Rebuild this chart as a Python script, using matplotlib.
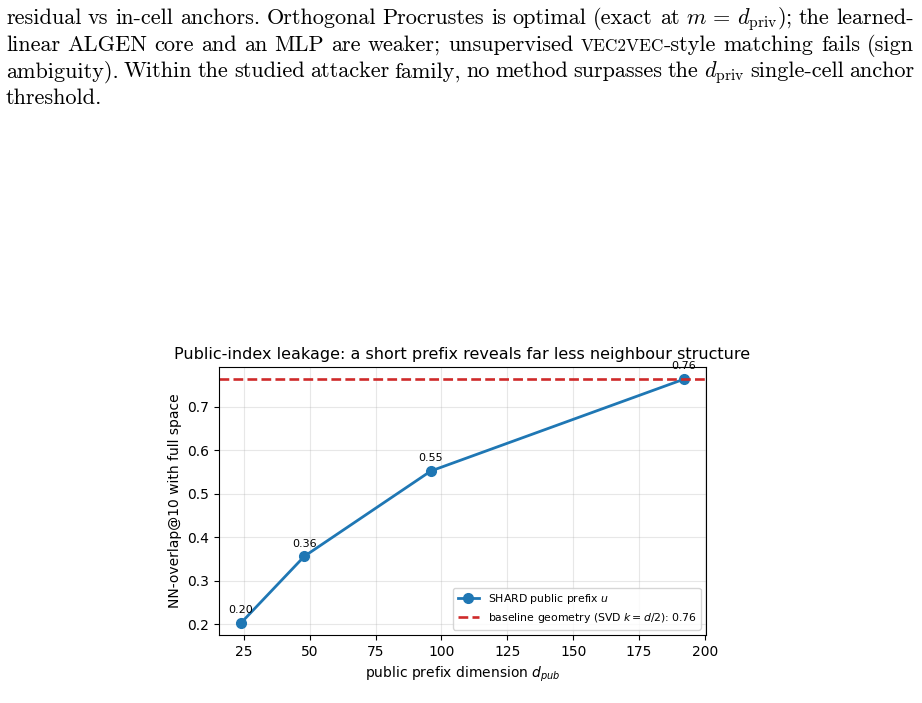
import matplotlib
matplotlib.use("Agg")
import matplotlib.pyplot as plt
from matplotlib.font_manager import FontProperties

# data
d_pub = [24, 48, 96, 192]
overlap = [0.203, 0.356, 0.552, 0.763]
baseline = 0.763

# page text above the figure; text between |...| is small caps
paper_lines = [
    "residual vs in-cell anchors. Orthogonal Procrustes is optimal (exact at $m\\,=\\,d_{\\mathrm{priv}}$); the learned-",
    "linear ALGEN core and an MLP are weaker; unsupervised |VEC2VEC|-style matching fails (sign",
    "ambiguity). Within the studied attacker family, no method surpasses the $d_{\\mathrm{priv}}$ single-cell anchor",
    "threshold.",
]

fig = plt.figure(figsize=(9.22, 7.03), dpi=100)
renderer = fig.canvas.get_renderer()

base_size = 16
left_px, right_px = 6, 914


def word_pieces(w):
    parts = w.split('|')
    out = []
    for k, p in enumerate(parts):
        if p:
            out.append((p, 0.78 if k % 2 else 1.0))
    return out


# justified lines, word by word
for i, line in enumerate(paper_lines):
    y = 1 - (24 + 26.7 * i) / 703
    words = line.split(' ')
    drawn = []
    for w in words:
        items = []
        for txt, f in word_pieces(w):
            fp = FontProperties(family='cmr10', size=base_size * f, math_fontfamily='cm')
            t = fig.text(0, y, txt, fontproperties=fp, va='baseline', ha='left')
            wpx = t.get_window_extent(renderer).width
            items.append((t, wpx))
        drawn.append(items)
    widths = [sum(p[1] for p in it) for it in drawn]
    if i == len(paper_lines) - 1:
        gap = 6
    else:
        gap = (right_px - left_px - sum(widths)) / (len(words) - 1)
    x = left_px
    for it, wd in zip(drawn, widths):
        xx = x
        for t, wpx in it:
            t.set_x(xx / 922)
            xx += wpx
        x += wd + gap

ax = fig.add_axes([0.2375, 0.0967, 0.5282, 0.3812])
ax.plot(d_pub, overlap, marker='o', color='#1f77b4', lw=2, ms=7,
        label='SHARD public prefix $u$')
ax.axhline(baseline, color='#cf2a2a', ls='--', lw=1.9,
           label='baseline geometry (SVD $k=d/2$): %.2f' % baseline)
for x, y in zip(d_pub, overlap):
    ax.annotate('%.2f' % y, (x, y), xytext=(0, 7), textcoords='offset points',
                ha='center', fontsize=8)

ax.set_title('Public-index leakage: a short prefix reveals far less neighbour structure',
             fontsize=11.5)
ax.set_xlabel('public prefix dimension $d_{pub}$')
ax.set_ylabel('NN-overlap@10 with full space')
ax.grid(True, alpha=0.3)
ax.legend(loc='lower right', fontsize=7.8)

fig.savefig('out.png', dpi=100)
